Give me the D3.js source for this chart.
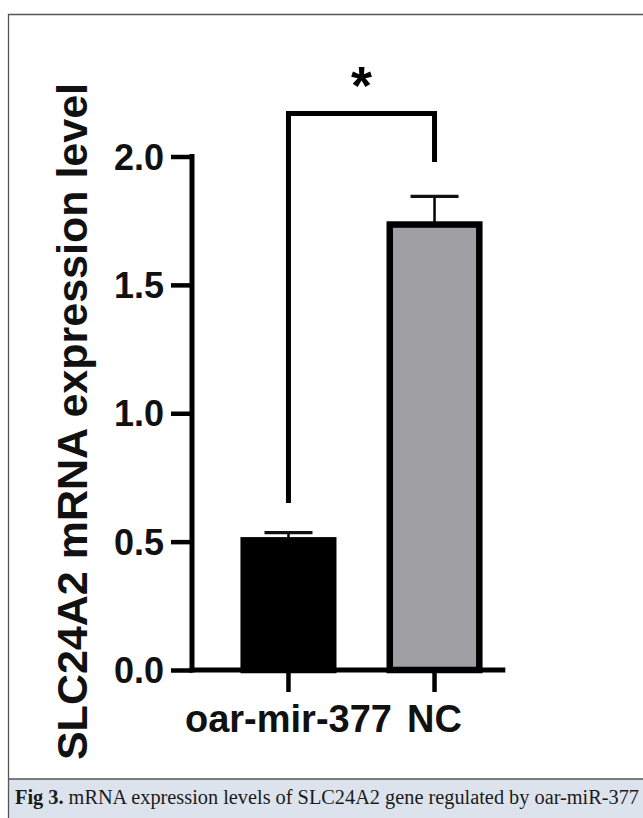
<!DOCTYPE html>
<html>
<head>
<meta charset="utf-8">
<script src="https://cdn.jsdelivr.net/npm/d3@7"></script>
<style>
  html, body { margin: 0; padding: 0; background: #fff; }
  svg { display: block; }
</style>
</head>
<body>
<svg id="chart" width="643" height="818"></svg>
<script>
// ---- data ----
const categories = ["oar-mir-377", "NC"];
const means = [0.505, 1.735];
const errors = [0.03, 0.11];
const barFills = ["#000000", "#9e9ea3"];
const yTicks = [0.0, 0.5, 1.0, 1.5, 2.0];
const yTitle = "SLC24A2 mRNA expression level";
const sigLabel = "*";
const captionBold = "Fig 3.";
const captionRest = " mRNA expression levels of SLC24A2 gene regulated by oar-miR-377";

const svg = d3.select("#chart");
const W = 643, H = 818;

// frame + caption panel
svg.append("rect").attr("x", 0).attr("y", 0).attr("width", W).attr("height", H).attr("fill", "#fff");
svg.append("rect").attr("x", 8.5).attr("y", 779).attr("width", W).attr("height", H - 779)
  .attr("fill", "#dde3ec");
svg.append("path").attr("d", `M${W+5},14.5 H8.5 V${H+5}`).attr("fill", "none")
  .attr("stroke", "#555").attr("stroke-width", 1.3);
svg.append("line").attr("x1", 8.5).attr("x2", W + 5).attr("y1", 779).attr("y2", 779)
  .attr("stroke", "#555").attr("stroke-width", 1.3);

// caption
const cap = svg.append("text").attr("x", 15).attr("y", 804)
  .attr("font-family", "'Liberation Serif','DejaVu Serif',serif")
  .attr("font-size", 20).attr("fill", "#1a1a1a")
  .attr("textLength", 624).attr("lengthAdjust", "spacingAndGlyphs");
cap.append("tspan").attr("font-weight", "bold").text(captionBold);
cap.append("tspan").text(captionRest);

// scales
const y = d3.scaleLinear().domain([0, 2]).range([670, 156.5]);
const axisX = 192;
const x = d3.scaleBand().domain(categories)
  .range([axisX, axisX + 339]).paddingInner(0.387).paddingOuter(0.354);

const font = "'Liberation Sans', Arial, Helvetica, sans-serif";
const barStroke = 6.5;

// bars
const g = svg.append("g");
g.selectAll("rect.bar").data(categories).join("rect")
  .attr("class", "bar")
  .attr("x", d => x(d))
  .attr("width", x.bandwidth())
  .attr("y", (d, i) => y(means[i]))
  .attr("height", (d, i) => y(0) - y(means[i]))
  .attr("fill", (d, i) => barFills[i])
  .attr("stroke", "#000").attr("stroke-width", barStroke);

// error bars (upper only)
const capW = 48;
categories.forEach((c, i) => {
  const cx = x(c) + x.bandwidth() / 2;
  g.append("line").attr("x1", cx).attr("x2", cx)
    .attr("y1", y(means[i])).attr("y2", y(means[i] + errors[i]))
    .attr("stroke", "#000").attr("stroke-width", 2.5);
  g.append("line").attr("x1", cx - capW / 2).attr("x2", cx + capW / 2)
    .attr("y1", y(means[i] + errors[i])).attr("y2", y(means[i] + errors[i]))
    .attr("stroke", "#111").attr("stroke-width", 3.2);
});

// y axis
const yAxis = d3.axisLeft(y).tickValues(yTicks).tickFormat(d3.format(".1f"))
  .tickSize(21).tickSizeOuter(0).tickPadding(7);
const ya = svg.append("g").attr("transform", `translate(${axisX},0)`).call(yAxis);
ya.select(".domain").attr("stroke", "#000").attr("stroke-width", 5)
  .attr("d", `M0,${y(2) - 2.5}V${y(0) + 2.5}`);
ya.selectAll(".tick line").attr("stroke", "#000").attr("stroke-width", 4.5);
ya.selectAll(".tick text").attr("font-family", font).attr("font-weight", "bold")
  .attr("font-size", 36).attr("fill", "#111").attr("dy", "0.35em");

// x axis
const xEnd = x(categories[1]) + x.bandwidth() + 26;
const xAxis = d3.axisBottom(x).tickSize(22).tickSizeOuter(0).tickPadding(16);
const xa = svg.append("g").attr("transform", `translate(0,${y(0)})`).call(xAxis);
xa.select(".domain").attr("stroke", "#000").attr("stroke-width", 5)
  .attr("d", `M${axisX - 2.5},0H${xEnd}`);
xa.selectAll(".tick line").attr("stroke", "#000").attr("stroke-width", 4.5);
xa.selectAll(".tick text").attr("font-family", font).attr("font-weight", "bold")
  .attr("font-size", 38).attr("fill", "#111").attr("dy", 0)
  .attr("y", 62);

// y title
svg.append("text")
  .attr("transform", `translate(87,${421.5}) rotate(-90)`)
  .attr("text-anchor", "middle")
  .attr("font-family", font).attr("font-weight", "bold").attr("font-size", 43)
  .attr("fill", "#111").text(yTitle);

// significance bracket
const c0 = x(categories[0]) + x.bandwidth() / 2;
const c1 = x(categories[1]) + x.bandwidth() / 2;
const bracketY = 113.5;
svg.append("path")
  .attr("d", `M${c0},503 V${bracketY} H${c1} V162`)
  .attr("fill", "none").attr("stroke", "#000").attr("stroke-width", 5)
  .attr("stroke-linejoin", "miter");
svg.append("text").attr("x", (c0 + c1) / 2).attr("y", 104)
  .attr("text-anchor", "middle").attr("font-family", font).attr("font-weight", "bold")
  .attr("font-size", 54).attr("fill", "#000").text(sigLabel);
</script>
</body>
</html>
